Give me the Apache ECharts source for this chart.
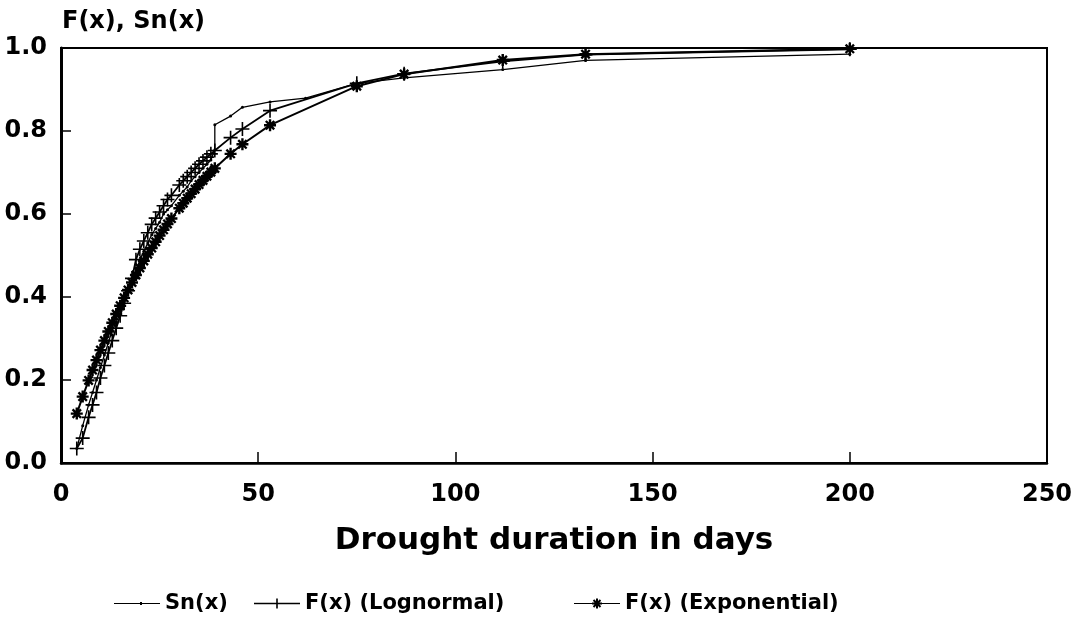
<!DOCTYPE html>
<html>
<head>
<meta charset="utf-8">
<script src="https://cdn.jsdelivr.net/npm/echarts@6/dist/echarts.min.js"></script>
<style>
html,body{margin:0;padding:0;background:#fff;}
#chart{width:1083px;height:626px;}
</style>
</head>
<body>
<div id="chart"></div>
<script>
// Durations (days) at which the fitted CDFs are plotted
const durations = [4, 5.5, 7, 8, 9, 10, 11, 12, 13, 14, 15, 16, 17, 18, 19, 20, 21, 22, 23, 24, 25, 26, 27, 28, 30, 31, 32, 33, 34, 35, 36, 37, 38, 39, 43, 46, 53, 75, 87, 112, 133, 200];
// F(x) Lognormal
const lognormalF = [0.035, 0.06, 0.11, 0.14, 0.17, 0.205, 0.235, 0.265, 0.295, 0.325, 0.355, 0.385, 0.415, 0.445, 0.49, 0.515, 0.535, 0.555, 0.575, 0.59, 0.605, 0.62, 0.635, 0.645, 0.67, 0.68, 0.69, 0.70, 0.71, 0.72, 0.728, 0.737, 0.745, 0.753, 0.784, 0.805, 0.849, 0.915, 0.938, 0.968, 0.984, 0.997];
// F(x) Exponential
const exponentialF = [0.119, 0.16, 0.199, 0.224, 0.248, 0.272, 0.295, 0.317, 0.338, 0.359, 0.379, 0.398, 0.417, 0.435, 0.453, 0.47, 0.487, 0.503, 0.518, 0.533, 0.548, 0.562, 0.576, 0.589, 0.614, 0.626, 0.638, 0.649, 0.66, 0.671, 0.681, 0.691, 0.701, 0.71, 0.745, 0.768, 0.814, 0.908, 0.937, 0.971, 0.985, 0.998];
// Empirical Sn(x)
const snX = [4, 5.5, 7, 8, 9, 10, 11, 12, 13, 14, 15, 16, 17, 18, 19, 20, 21, 22, 23, 24, 25, 26, 27, 28, 30, 31, 32, 33, 34, 35, 36, 37, 38, 39, 39, 43, 46, 53, 62, 75, 87, 112, 133, 200];
const snY = [0.035, 0.09, 0.14, 0.17, 0.2, 0.23, 0.26, 0.29, 0.32, 0.34, 0.36, 0.39, 0.41, 0.43, 0.46, 0.49, 0.51, 0.53, 0.55, 0.565, 0.58, 0.6, 0.61, 0.62, 0.645, 0.655, 0.665, 0.68, 0.69, 0.70, 0.71, 0.72, 0.73, 0.755, 0.815, 0.836, 0.857, 0.87, 0.879, 0.915, 0.928, 0.948, 0.97, 0.985];

const seriesNames = ['Sn(x)', 'F(x) (Lognormal)', 'F(x) (Exponential)'];
const yAxisTitle = 'F(x), Sn(x)';
const xAxisTitle = 'Drought duration in days';

const FONT = 'DejaVu Sans';
const PLUS = 'path://M-0.8,-7 L0.8,-7 L0.8,-0.8 L7,-0.8 L7,0.8 L0.8,0.8 L0.8,7 L-0.8,7 L-0.8,0.8 L-7,0.8 L-7,-0.8 L-0.8,-0.8 Z';
const STAR = 'path://M-5,-1 L5,-1 L5,1 L-5,1 Z M-1,-5 L1,-5 L1,5 L-1,5 Z M-4.2,-2.8 L-2.8,-4.2 L4.2,2.8 L2.8,4.2 Z M2.8,-4.2 L4.2,-2.8 L-2.8,4.2 L-4.2,2.8 Z';
const SN_ICON = 'path://M0,6.5 L46,6.5 L46,7.5 L0,7.5 Z M26,5.5 L28,5.5 L28,8.5 L26,8.5 Z';
const PLUS_ICON = 'path://M0,6.3 L22.2,6.3 L22.2,2 L23.8,2 L23.8,6.3 L46,6.3 L46,7.7 L23.8,7.7 L23.8,12 L22.2,12 L22.2,7.7 L0,7.7 Z';
const STAR_ICON = 'path://M0,6.4 L46,6.4 L46,7.6 L0,7.6 Z M18,6 L28,6 L28,8 L18,8 Z M22,2 L24,2 L24,12 L22,12 Z M18.8,4.2 L20.2,2.8 L27.2,9.8 L25.8,11.2 Z M25.8,2.8 L27.2,4.2 L20.2,11.2 L18.8,9.8 Z';

const pair = (xs, ys) => xs.map((x, i) => [x, ys[i]]);

const chart = echarts.init(document.getElementById('chart'), null, {renderer: 'canvas'});
const legendBase = {
  top: 588, itemWidth: 46, itemHeight: 14, itemGap: 0,
  textStyle: {fontFamily: FONT, fontWeight: 'bold', fontSize: 21, color: '#000'}
};
chart.setOption({
  animation: false,
  backgroundColor: '#fff',
  title: {
    text: yAxisTitle, left: 57, top: 5,
    textStyle: {fontFamily: FONT, fontWeight: 'bold', fontSize: 24, color: '#000'}
  },
  grid: {left: 61, right: 36, top: 48, bottom: 163, show: true, borderColor: '#000', borderWidth: 2, backgroundColor: 'transparent'},
  legend: [
    Object.assign({}, legendBase, {data: [{name: seriesNames[0], icon: SN_ICON}], left: 109}),
    Object.assign({}, legendBase, {data: [{name: seriesNames[1], icon: PLUS_ICON}], left: 249}),
    Object.assign({}, legendBase, {data: [{name: seriesNames[2], icon: STAR_ICON}], left: 569})
  ],
  xAxis: {
    type: 'value', min: 0, max: 250, interval: 50,
    name: xAxisTitle, nameLocation: 'middle', nameGap: 62,
    nameTextStyle: {fontFamily: FONT, fontWeight: 'bold', fontSize: 31, color: '#000'},
    axisLine: {lineStyle: {color: '#000', width: 2.5}},
    axisTick: {inside: true, length: 11, lineStyle: {color: '#000', width: 1.5}},
    axisLabel: {fontFamily: FONT, fontWeight: 'bold', fontSize: 24, color: '#000', margin: 20},
    splitLine: {show: false}
  },
  yAxis: {
    type: 'value', min: 0, max: 1, interval: 0.2,
    axisLine: {show: true, lineStyle: {color: '#000', width: 3}},
    axisTick: {show: true, inside: true, length: 10, lineStyle: {color: '#000', width: 1.5}},
    axisLabel: {fontFamily: FONT, fontWeight: 'bold', fontSize: 24, color: '#000', margin: 14,
      formatter: v => v.toFixed(1)},
    splitLine: {show: false}
  },
  series: [
    {
      name: seriesNames[0], type: 'line', data: pair(snX, snY),
      symbol: 'circle', symbolSize: 3, showSymbol: true,
      lineStyle: {color: '#000', width: 1.3}, itemStyle: {color: '#000'}
    },
    {
      name: seriesNames[1], type: 'line', data: pair(durations, lognormalF),
      symbol: PLUS, symbolSize: 14, showSymbol: true,
      lineStyle: {color: '#000', width: 1.8}, itemStyle: {color: '#000'}
    },
    {
      name: seriesNames[2], type: 'line', data: pair(durations, exponentialF),
      symbol: STAR, symbolSize: 12, showSymbol: true,
      lineStyle: {color: '#000', width: 2}, itemStyle: {color: '#000'}
    }
  ]
});
</script>
</body>
</html>
